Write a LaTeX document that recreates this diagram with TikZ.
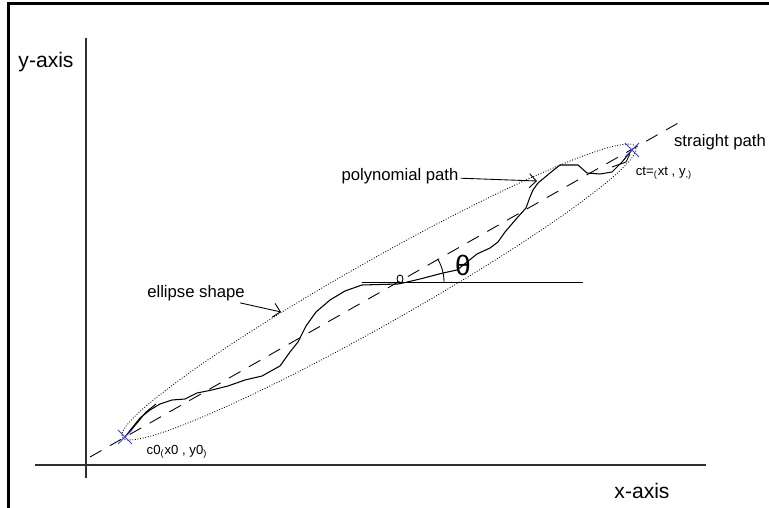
\documentclass[tikz,border=0pt]{standalone}
\usepackage{fontspec}
\setmainfont{Liberation Sans}
\usetikzlibrary{arrows.meta,calc}
\definecolor{MarkBlue}{HTML}{3C3CF0}
\definecolor{AxisGray}{HTML}{303030}

\begin{document}
\begin{tikzpicture}[x=0.02cm, y=0.02cm,
    axislbl/.style={inner sep=0pt, font=\fontsize{12}{14}\selectfont},
    pathlbl/.style={inner sep=1pt, font=\fontsize{9.5}{11}\selectfont},
    ptlbl/.style={inner sep=0pt, font=\fontsize{7.5}{9}\selectfont},
    cross/.style={MarkBlue, line width=0.6pt},
    ptr/.style={-{Straight Barb[length=4pt,width=8pt]}, line width=0.5pt}]
    \useasboundingbox (0,0) rectangle (769,508);

    % Frame (top and left edge only)
    \draw[line width=1.7pt] (8.5,0) -- (8.5,504.5) -- (769,504.5);

    % Axes
    \draw[AxisGray, line width=0.8pt] (86,30) -- (86,470);
    \draw[AxisGray, line width=0.8pt] (35,43) -- (706,43);
    \node[axislbl] (ylbl) at (46,446) {y-axis};
    \node[axislbl] (xlbl) at (642,17) {x-axis};

    % End points
    \coordinate (c0) at (125,71);
    \coordinate (ct) at (632,358);

    % Ellipse shape
    \draw[densely dotted, line width=0.5pt] (379,216) ellipse[x radius=295, y radius=32, rotate=29.5];

    % Straight path
    \draw[dash pattern=on 7.5pt off 5.5pt, line width=0.5pt] (90,51) -- (680,386);

    % Horizontal reference and angle
    \coordinate (o) at (399,226);
    \draw[line width=0.5pt] (362,226) -- (583,226);
    \draw[line width=0.5pt] ($(o)+(0:45)$) arc (0:31:45);
    \node[inner sep=0pt, font=\fontsize{16}{16}\selectfont] (theta) at (463,243) {θ};

    % Polynomial path
    \draw[line width=0.6pt, line join=round]
        (c0) -- (132,80) -- (140,90) -- (150,98) -- (160,104) -- (172,108) -- (185,109)
        -- (197,115) -- (212,118) -- (228,122) -- (245,128) -- (262,132) -- (280,142)
        -- (290,156) -- (298,166) -- (306,182) -- (316,196) -- (330,208) -- (345,217)
        -- (362,223) -- (398,224) -- (403,225) -- (420,229) -- (443,235) -- (457,238)
        -- (477,254) -- (490,260) -- (498,266) -- (505,276) -- (517,290) -- (526,300)
        -- (530,311) -- (533,318) -- (538,325) -- (550,335) -- (560,343) -- (578,343)
        -- (587,335) -- (600,334) -- (612,336) -- (622,346) -- (ct);
    \draw[line width=0.5pt] (400,229) ellipse (3 and 4);
    % extra strands near the ends
    \draw[line width=0.5pt] (128,74) -- (138,86) -- (146,96) -- (156,104);
    \draw[line width=0.5pt] (612,341) -- (626,346) -- (630,354);

    % Markers
    \draw[cross] ($(c0)+(-7,-7)$) -- ($(c0)+(7,7)$);
    \draw[cross] ($(c0)+(-7,7)$) -- ($(c0)+(7,-7)$);
    \draw[cross] ($(ct)+(-7,-7)$) -- ($(ct)+(7,7)$);
    \draw[cross] ($(ct)+(-7,7)$) -- ($(ct)+(7,-7)$);

    % Labels
    \node[pathlbl] (straightlbl) at (720,366) {straight path};
    \node[ptlbl] (ctlbl) at (664,335) {ct=\textsubscript{(}xt , y\textsubscript{,)}};
    \node[ptlbl] (c0lbl) at (177,56) {c0\textsubscript{(}x0 , y0\textsubscript{)}};

    \node[pathlbl] (polylbl) at (400,332) {polynomial path};
    \coordinate (polytip) at (537,327);
    \draw[ptr] (polylbl) -- (polytip);

    \node[pathlbl] (elllbl) at (196,215) {ellipse shape};
    \coordinate (elltip) at (281,196);
    \draw[ptr] (elllbl) -- (elltip);
\end{tikzpicture}
\end{document}
